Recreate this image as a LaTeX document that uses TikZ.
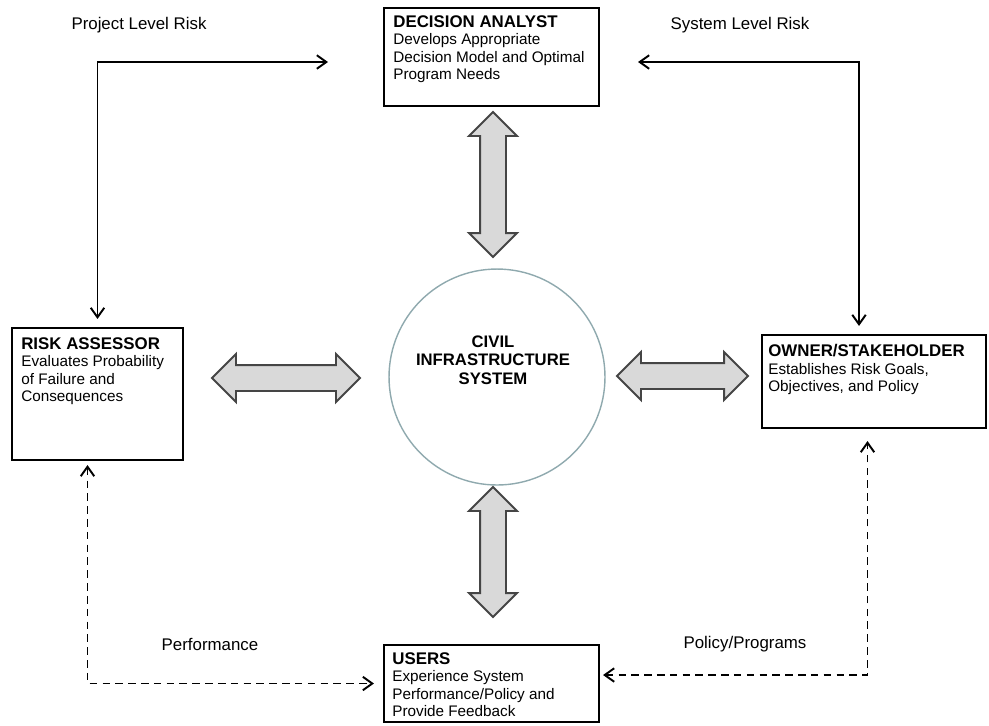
\documentclass[tikz,border=0pt]{standalone}
\usepackage{fontspec}
\setmainfont{Liberation Sans}
\usepackage{tikz}
\usetikzlibrary{arrows.meta, shapes.arrows, positioning}

\definecolor{hubline}{HTML}{8FA9AE}
\definecolor{arrowfill}{HTML}{D9D9D9}
\definecolor{arrowline}{HTML}{454545}

\newcommand{\roletitle}[1]{{\bfseries\fontsize{9.6}{10}\selectfont #1}}

\begin{document}
\begin{tikzpicture}[
      x=0.02cm, y=-0.02cm,
      >={Straight Barb[length=1.9mm, width=2.7mm]},
      role/.style={draw, line width=1.2pt, inner sep=0pt},
      roletext/.style={anchor=north west, inner sep=0pt, align=left,
        font=\fontsize{8.7}{10}\selectfont},
      hub/.style={draw=hubline, line width=0.8pt, circle, inner sep=0pt},
      exchange/.style={double arrow, draw=arrowline, fill=arrowfill,
        line width=1.1pt, inner xsep=0pt, inner ysep=0.24cm,
        double arrow head extend=0.22cm, minimum width=0pt},
      link/.style={<->, line width=1.1pt},
      feedback/.style={<->, line width=1.1pt, dash pattern=on 4.3pt off 3pt},
      note/.style={font=\fontsize{9.6}{11}\selectfont},
    ]

    \useasboundingbox (0,0) rectangle (989,725);

    % the four roles
    \node[role, minimum width=4.3cm, minimum height=1.96cm]  (da) at (491.5,57) {};
    \node[role, minimum width=3.42cm, minimum height=2.64cm] (ra) at (97.5,394) {};
    \node[role, minimum width=4.48cm, minimum height=1.86cm] (os) at (874,381.5) {};
    \node[role, minimum width=4.3cm, minimum height=1.54cm]  (us) at (491.5,683.5) {};

    \node[roletext] (da-text) at ([shift={(10,8)}]da.north west)
      {\roletitle{DECISION ANALYST}\\Develops Appropriate\\Decision Model and Optimal\\Program Needs};
    \node[roletext] (ra-text) at ([shift={(10,10)}]ra.north west)
      {\roletitle{RISK ASSESSOR}\\Evaluates Probability\\of Failure and\\Consequences};
    \node[roletext] (os-text) at ([shift={(7,10)}]os.north west)
      {\roletitle{OWNER/STAKEHOLDER}\\Establishes Risk Goals,\\Objectives, and Policy};
    \node[roletext] (us-text) at ([shift={(9,8)}]us.north west)
      {\roletitle{USERS}\\Experience System\\Performance/Policy and\\Provide Feedback};

    % the system in the middle
    \node[hub, minimum size=4.32cm] (cis) at (497,377) {};
    \node[align=center, font=\bfseries\fontsize{9.5}{10.6}\selectfont] (cis-text) at (493,360)
      {CIVIL\\INFRASTRUCTURE\\SYSTEM};

    % two-way exchanges
    \node[exchange, rotate=90, minimum height=2.9cm]  (da-cis) at (493,184.5) {};
    \node[exchange, minimum height=2.96cm]            (ra-cis) at (286,378) {};
    \node[exchange, minimum height=2.62cm]            (cis-os) at (682.5,376) {};
    \node[exchange, rotate=90, minimum height=2.6cm]  (cis-us) at (493,552) {};

    % risk links and feedback
    \coordinate (plr) at (328,62);
    \coordinate (slr) at (638,62);

    \draw[link, shorten >=0.16cm] (plr) -| (ra.north);
    \draw[link, shorten >=0.16cm] (slr) -| ([shift={(-15,0)}]os.north);
    \draw[feedback, shorten <=0.08cm, shorten >=0.18cm]
      ([shift={(-10,0)}]ra.south) |- (us.west);
    \draw[feedback, shorten <=0.06cm, shorten >=0.24cm]
      ([shift={(0,-8.5)}]us.east) -| ([shift={(-6.5,0)}]os.south);

    \node[note] (plr-label)  at (139,25)  {Project Level Risk};
    \node[note] (slr-label)  at (740,25)  {System Level Risk};
    \node[note] (perf-label) at (210,644) {Performance};
    \node[note] (pp-label)   at (745,644) {Policy/Programs};

  \end{tikzpicture}
\end{document}
